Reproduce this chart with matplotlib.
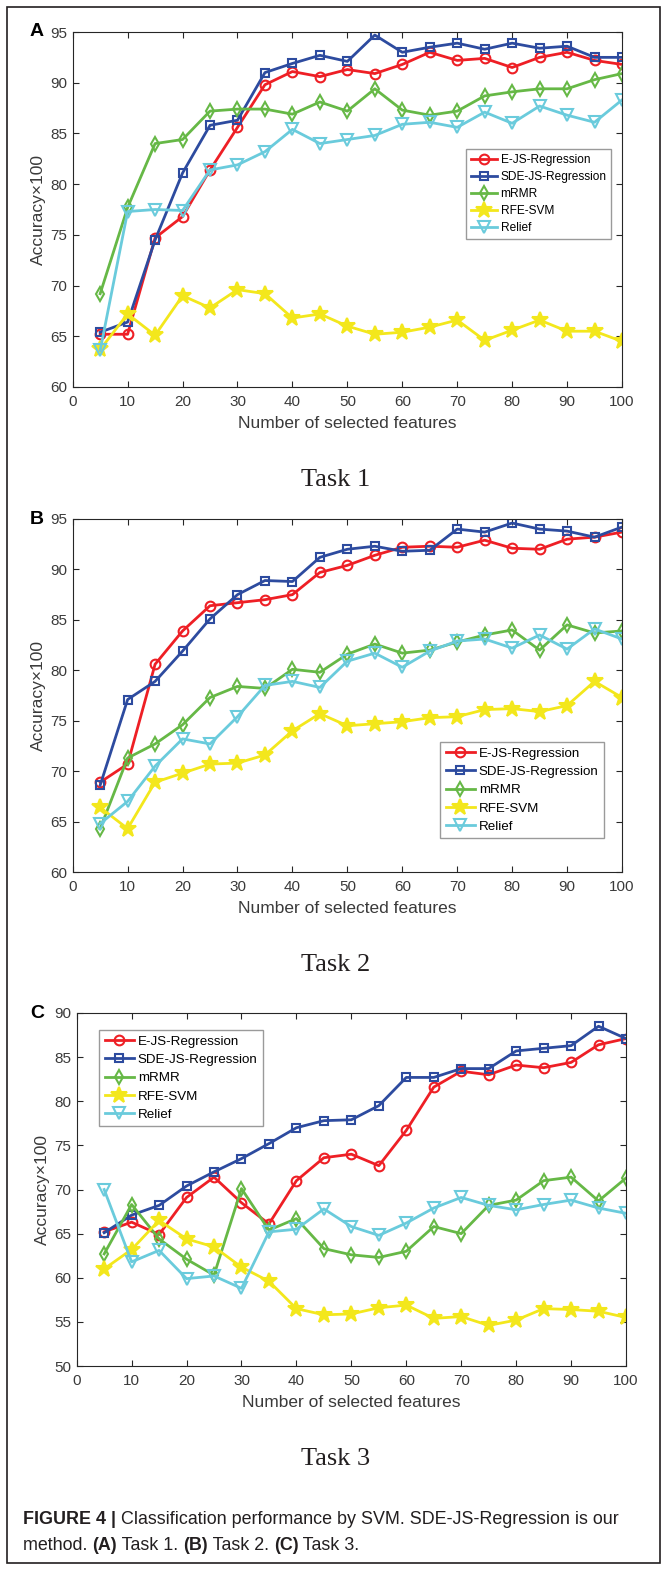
import matplotlib
matplotlib.use('Agg')
import matplotlib.pyplot as plt
from matplotlib import font_manager
from matplotlib.patches import Rectangle

x = list(range(5, 105, 5))
names = ['E-JS-Regression', 'SDE-JS-Regression', 'mRMR', 'RFE-SVM', 'Relief']

# Task 1
a_ejs = [65.2, 65.2, 74.7, 76.8, 81.4, 85.6, 89.8, 91.1, 90.6, 91.3, 90.9, 91.8, 93.0, 92.2, 92.4, 91.5, 92.5, 93.0, 92.2, 91.8]
a_sde = [65.4, 66.4, 74.5, 81.1, 85.8, 86.3, 91.0, 91.9, 92.7, 92.1, 94.7, 93.0, 93.5, 93.9, 93.3, 93.9, 93.4, 93.6, 92.5, 92.5]
a_mrmr = [69.2, 77.7, 84.0, 84.4, 87.2, 87.4, 87.4, 86.9, 88.1, 87.2, 89.4, 87.3, 86.8, 87.2, 88.7, 89.1, 89.4, 89.4, 90.3, 90.9]
a_rfe = [63.7, 67.2, 65.1, 69.0, 67.8, 69.6, 69.2, 66.8, 67.2, 66.0, 65.2, 65.4, 65.9, 66.6, 64.6, 65.6, 66.6, 65.5, 65.5, 64.5]
a_relief = [63.6, 77.3, 77.5, 77.4, 81.4, 81.9, 83.2, 85.4, 84.0, 84.4, 84.8, 85.9, 86.1, 85.6, 87.1, 86.0, 87.7, 86.8, 86.1, 88.3]

# Task 2
b_ejs = [68.9, 70.7, 80.6, 83.9, 86.4, 86.7, 87.0, 87.5, 89.7, 90.4, 91.4, 92.2, 92.3, 92.2, 92.9, 92.1, 92.0, 93.0, 93.2, 93.7]
b_sde = [68.6, 77.1, 78.9, 81.9, 85.1, 87.5, 88.9, 88.8, 91.2, 92.0, 92.3, 91.8, 91.9, 94.0, 93.7, 94.6, 94.0, 93.8, 93.2, 94.2]
b_mrmr = [64.3, 71.3, 72.7, 74.6, 77.3, 78.4, 78.2, 80.1, 79.8, 81.6, 82.6, 81.7, 82.0, 82.8, 83.5, 84.0, 82.0, 84.5, 83.7, 83.9]
b_rfe = [66.4, 64.3, 68.9, 69.8, 70.7, 70.8, 71.6, 74.0, 75.7, 74.5, 74.7, 74.9, 75.3, 75.4, 76.1, 76.2, 75.9, 76.5, 78.9, 77.3]
b_relief = [64.8, 67.0, 70.5, 73.2, 72.7, 75.4, 78.5, 78.9, 78.3, 80.9, 81.7, 80.3, 81.9, 82.9, 83.1, 82.2, 83.5, 82.1, 84.1, 83.1]

# Task 3
c_ejs = [65.2, 66.3, 64.9, 69.1, 71.4, 68.5, 66.1, 71.0, 73.6, 74.0, 72.7, 76.7, 81.6, 83.4, 83.0, 84.1, 83.8, 84.4, 86.4, 87.1]
c_sde = [65.1, 67.1, 68.2, 70.4, 72.0, 73.5, 75.2, 77.0, 77.8, 77.9, 79.5, 82.7, 82.7, 83.7, 83.7, 85.7, 86.0, 86.3, 88.5, 87.1]
c_mrmr = [62.7, 68.3, 64.4, 62.1, 60.3, 70.1, 65.4, 66.7, 63.3, 62.6, 62.3, 63.0, 65.8, 65.0, 68.2, 68.8, 71.0, 71.4, 68.7, 71.3]
c_rfe = [61.0, 63.2, 66.5, 64.4, 63.5, 61.2, 59.6, 56.5, 55.8, 55.9, 56.6, 56.9, 55.4, 55.6, 54.6, 55.2, 56.5, 56.4, 56.2, 55.5]
c_relief = [70.0, 61.8, 63.1, 59.9, 60.2, 58.8, 65.2, 65.5, 67.8, 65.8, 64.8, 66.2, 67.9, 69.1, 68.2, 67.7, 68.3, 68.8, 67.9, 67.3]

colors = ['#ee1f25', '#2d4b9f', '#66b846', '#f3e71c', '#6acbdc']
markers = ['o', 's', 'd', '*', 'v']
msizes = [7, 6, 7.5, 12, 9]
faces = ['none', 'none', 'none', '#f3e71c', 'none']

sans = 'Liberation Sans'
avail = {f.name for f in font_manager.fontManager.ttflist}
narrow = 'Liberation Sans Narrow' if 'Liberation Sans Narrow' in avail else sans
plt.rcParams['font.family'] = [sans, 'DejaVu Sans']
plt.rcParams['axes.edgecolor'] = '#262626'
plt.rcParams['xtick.color'] = '#262626'
plt.rcParams['ytick.color'] = '#262626'

W, H = 661, 1570
fig = plt.figure(figsize=(W / 100, H / 100), dpi=100)
fig.patches.append(Rectangle((7 / W, 7 / H), 653 / W, 1556 / H, transform=fig.transFigure,
                             fill=False, edgecolor='#231f20', linewidth=1.2))

panels = [
    ('A', [a_ejs, a_sde, a_mrmr, a_rfe, a_relief], (72.7, 32, 387), (60, 95), 'Task 1', (0.716, 0.670), 8.6, 0.42),
    ('B', [b_ejs, b_sde, b_mrmr, b_rfe, b_relief], (72.7, 519, 872), (60, 95), 'Task 2', (0.669, 0.368), 9.6, 0.45),
    ('C', [c_ejs, c_sde, c_mrmr, c_rfe, c_relief], (76.7, 1013, 1366), (50, 90), 'Task 3', (0.041, 0.952), 9.6, 0.45),
]

for letter, series, (left, top, bottom), ylim, task, leg_anchor, leg_fs, leg_sp in panels:
    ax = fig.add_axes([left / W, 1 - bottom / H, 549.3 / W, (bottom - top) / H])
    for i, ys in enumerate(series):
        ax.plot(x, ys, color=colors[i], marker=markers[i], markersize=msizes[i],
                markerfacecolor=faces[i], markeredgewidth=1.5, linewidth=2, label=names[i])
    ax.set_xlim(0, 100)
    ax.set_ylim(*ylim)
    ax.set_xticks(range(0, 101, 10))
    ax.set_yticks(range(ylim[0], ylim[1] + 1, 5))
    ax.tick_params(direction='in', top=True, right=True, length=4, width=0.8,
                   labelsize=11, labelcolor='#3a3a3a', pad=4)
    ax.tick_params(axis='x', pad=6)
    for s in ax.spines.values():
        s.set_linewidth(0.8)
    ax.set_xlabel('Number of selected features', fontsize=12.5, color='#3a3a3a', labelpad=5)
    ax.set_ylabel('Accuracy×100', fontsize=12.5, color='#3a3a3a', labelpad=3)
    leg = ax.legend(loc='upper left', bbox_to_anchor=leg_anchor, fontsize=leg_fs, fancybox=False,
                    framealpha=1, edgecolor='#9a9a9a', labelspacing=leg_sp, handlelength=2.2,
                    handletextpad=0.3, borderpad=0.4, borderaxespad=0)
    leg.get_frame().set_linewidth(1.0)
    fig.text(37 / W, 1 - top / H, letter, fontsize=14, fontweight='bold', ha='center', va='center')
    fig.text(336 / W, 1 - (bottom + 93) / H, task, fontsize=19, family='Liberation Serif',
             ha='center', va='center', color='#231f20')

# caption, bold and normal pieces placed one after another
cap = fig.add_axes([0, 0, 1, 1])
cap.set_axis_off()
cap_color = '#231f20'
line1 = [('FIGURE 4 | ', 'bold'), ('Classification performance by SVM. SDE-JS-Regression is our', 'normal')]
line2 = [('method. ', 'normal'), ('(A)', 'bold'), (' Task 1. ', 'normal'), ('(B)', 'bold'),
         (' Task 2. ', 'normal'), ('(C)', 'bold'), (' Task 3.', 'normal')]
cap_fs = 11.5
cap_texts = []
for ypos, parts in [(1528, line1), (1554, line2)]:
    prev = None
    for txt, wt in parts:
        if prev is None:
            prev = cap.text(23 / W, 1 - ypos / H, txt, fontsize=cap_fs, fontweight=wt, family=narrow,
                            color=cap_color, va='bottom', ha='left', transform=fig.transFigure)
        else:
            prev = cap.annotate(txt, xy=(1, 0), xycoords=prev, fontsize=cap_fs, fontweight=wt,
                                family=narrow, color=cap_color, va='bottom', ha='left')
        cap_texts.append((ypos, prev))

# scale caption font so the first line spans the same width as in the figure
fig.canvas.draw()
r = fig.canvas.get_renderer()
l1 = [t for y, t in cap_texts if y == 1528]
width = l1[-1].get_window_extent(r).x1 - l1[0].get_window_extent(r).x0
new_fs = cap_fs * 599 / width
for y, t in cap_texts:
    t.set_fontsize(new_fs)

fig.savefig('out.png', dpi=100)
